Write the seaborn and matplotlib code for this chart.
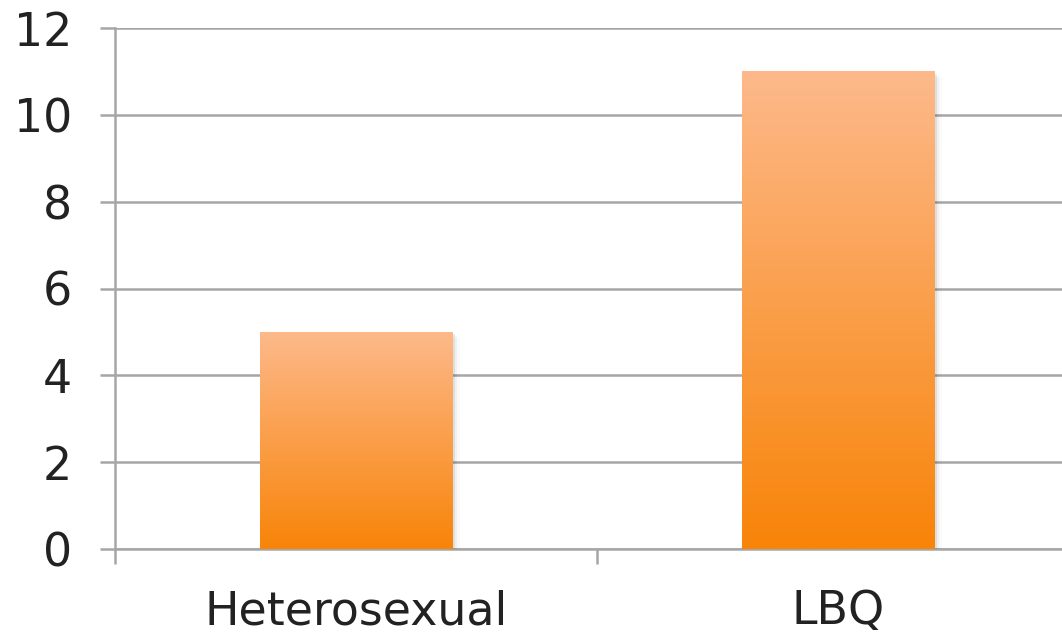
import numpy as np
import pandas
from matplotlib import pyplot
from matplotlib.colors import LinearSegmentedColormap
from matplotlib.ticker import MultipleLocator
import seaborn

CATEGORIES = ['Heterosexual', 'LBQ']
VALUES = [5, 11]

seaborn.set_style("white")
pyplot.rcParams['font.family'] = ['DejaVu Sans']

df = pandas.DataFrame({'Group': CATEGORIES, 'Count': VALUES})

fig = pyplot.figure(figsize=(10.62, 6.34), dpi=100)
ax = fig.add_axes([115 / 1062, 85 / 634, 1 - 115 / 1062, (549 - 28) / 634])
seaborn.barplot(data=df, x='Group', y='Count', width=0.4, color='#F98A1A', ax=ax, zorder=3)

# orange gradient, light on top, dark at the bottom
grad = LinearSegmentedColormap.from_list('orangegrad', ['#F88408', '#FDB98B'])
ramp = np.linspace(0, 1, 256).reshape(-1, 1)
for bar in ax.patches:
    x0, y0 = bar.get_x(), bar.get_y()
    w, h = bar.get_width(), bar.get_height()
    # soft shadow on the right
    for k, a in enumerate([0.07, 0.04, 0.02]):
        off = 0.005 * (k + 1)
        ax.add_patch(pyplot.Rectangle((x0, y0), w + off, h - 0.05 * (k + 1),
                                      color='black', alpha=a, zorder=2, lw=0))
    bar.set_facecolor('none')
    bar.set_edgecolor('none')
    img = ax.imshow(ramp, cmap=grad, origin='lower', aspect='auto',
                    extent=(x0, x0 + w, y0, y0 + h), zorder=3)
    img.set_clip_path(bar)

ax.set_xlim(-0.5, 1.5 - 17 / 482)
ax.set_ylim(0, 12)
ax.yaxis.set_major_locator(MultipleLocator(2))
ax.grid(True, axis='y', color='#A6A6A6', lw=1.8, zorder=0)
ax.set_axisbelow(True)
for side in ['top', 'right']:
    ax.spines[side].set_visible(False)
for side in ['left', 'bottom']:
    ax.spines[side].set_color('#A6A6A6')
    ax.spines[side].set_linewidth(1.8)
    ax.spines[side].set_zorder(1)

ax.set_xticks([-0.5, 0.5], minor=False)
ax.set_xticklabels([])
ax.set_xticks([0, 1], minor=True)
ax.set_xticklabels(CATEGORIES, minor=True)
ax.tick_params(axis='x', which='major', bottom=True, direction='out', length=11,
               width=1.8, color='#A6A6A6')
ax.tick_params(axis='x', which='minor', bottom=False, length=0, pad=29,
               labelsize=33, labelcolor='#222222')
ax.tick_params(axis='y', left=True, direction='out', length=11, width=1.8,
               color='#A6A6A6', pad=20, labelsize=33, labelcolor='#222222')
ax.set_xlabel('')
ax.set_ylabel('')

pyplot.savefig('out.png', dpi=100)
